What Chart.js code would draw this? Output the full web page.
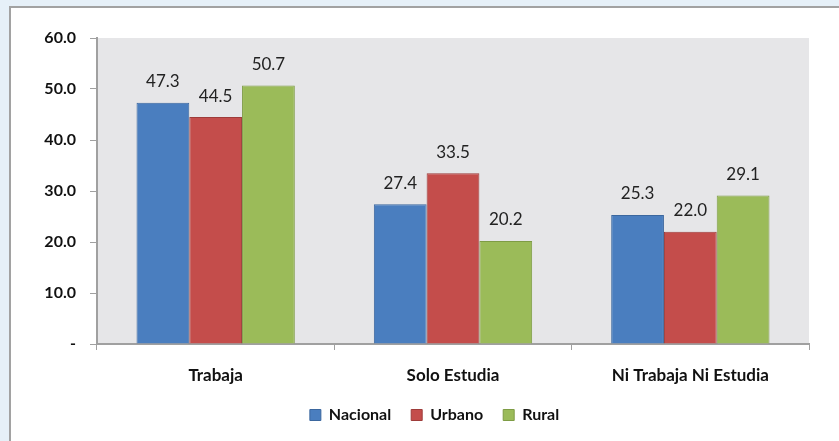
<!DOCTYPE html>
<html>
<head>
<meta charset="utf-8">
<script src="https://cdn.jsdelivr.net/npm/chart.js@4"></script>
<style>
  body { margin: 0; background: #E6F0F8; width: 839px; height: 441px; overflow: hidden; position: relative; }
  #box { position: absolute; left: 9px; top: 6px; width: 840px; height: 445px; background: #fff;
         border-left: 2px solid #A2A2A2; border-top: 2px solid #A2A2A2; }
  #wrap { position: absolute; left: 0; top: 0; width: 839px; height: 441px; }
</style>
</head>
<body>
<div id="box"></div>
<div id="wrap"><canvas id="myChart1" width="839" height="441"></canvas></div>
<script>
  // categories and series
  const categories = ['Trabaja', 'Solo Estudia', 'Ni Trabaja Ni Estudia'];
  const nacional = [47.3, 27.4, 25.3];
  const urbano = [44.5, 33.5, 22.0];
  const rural = [50.7, 20.2, 29.1];
  const yTicks = [0, 10, 20, 30, 40, 50, 60];

  const FONT = 'Lato, "Open Sans", sans-serif';

  // grey plot background
  const plotBg = {
    id: 'plotBg',
    beforeDraw(chart) {
      const a = chart.chartArea;
      const c = chart.ctx;
      c.save();
      c.fillStyle = '#E6E6E8';
      c.fillRect(a.left, a.top, a.right - a.left, a.bottom - a.top);
      c.restore();
    }
  };

  // push the legend a bit to the right, like the original
  const legendShift = {
    id: 'legendShift',
    afterLayout(chart) {
      const lg = chart.legend;
      if (lg) { lg.left += 30; lg.right += 30; }
    }
  };

  // value labels above bars
  const barLabels = {
    id: 'barLabels',
    afterDatasetsDraw(chart) {
      const c = chart.ctx;
      c.save();
      c.font = '17px ' + FONT;
      c.fillStyle = '#222';
      c.textAlign = 'center';
      c.textBaseline = 'middle';
      chart.data.datasets.forEach((ds, i) => {
        chart.getDatasetMeta(i).data.forEach((bar, j) => {
          c.fillText(ds.data[j].toFixed(1), bar.x, bar.y - 21);
        });
      });
      c.restore();
    }
  };

  const ctx = document.getElementById('myChart1').getContext('2d');
  new Chart(ctx, {
    type: 'bar',
    data: {
      labels: categories,
      datasets: [
        { label: 'Nacional', data: nacional, backgroundColor: '#4A7EBF', borderColor: '#3B679E', borderWidth: 1 },
        { label: 'Urbano', data: urbano, backgroundColor: '#C44D4B', borderColor: '#9E3C3A', borderWidth: 1 },
        { label: 'Rural', data: rural, backgroundColor: '#9BBB59', borderColor: '#7E9C45', borderWidth: 1 }
      ]
    },
    options: {
      responsive: false,
      animation: false,
      layout: { padding: { left: 0, top: 38, right: 30, bottom: 8 } },
      categoryPercentage: 0.667,
      barPercentage: 1.0,
      plugins: {
        tooltip: { enabled: false },
        legend: {
          position: 'bottom',
          labels: {
            boxWidth: 11, boxHeight: 11, padding: 20,
            color: '#111',
            font: { family: FONT, size: 16, weight: 'bold' }
          }
        }
      },
      scales: {
        x: {
          grid: { drawOnChartArea: false, tickLength: 6, color: '#A0A0A0' },
          border: { color: '#A0A0A0', width: 2 },
          ticks: { color: '#111', padding: 15, font: { family: FONT, size: 17, weight: 'bold' } },
          afterFit(scale) { scale.height = 43; }
        },
        y: {
          min: 0, max: 60,
          afterBuildTicks(scale) { scale.ticks = yTicks.map(v => ({ value: v })); },
          grid: { drawOnChartArea: false, tickLength: 7, color: '#A0A0A0' },
          border: { color: '#A0A0A0', width: 2 },
          ticks: {
            color: '#111', padding: 14,
            font: { family: FONT, size: 16, weight: 'bold' },
            callback: v => v === 0 ? '-' : v.toFixed(1)
          },
          afterFit(scale) { scale.width = 97; }
        }
      }
    },
    plugins: [plotBg, legendShift, barLabels]
  });
</script>
</body>
</html>
